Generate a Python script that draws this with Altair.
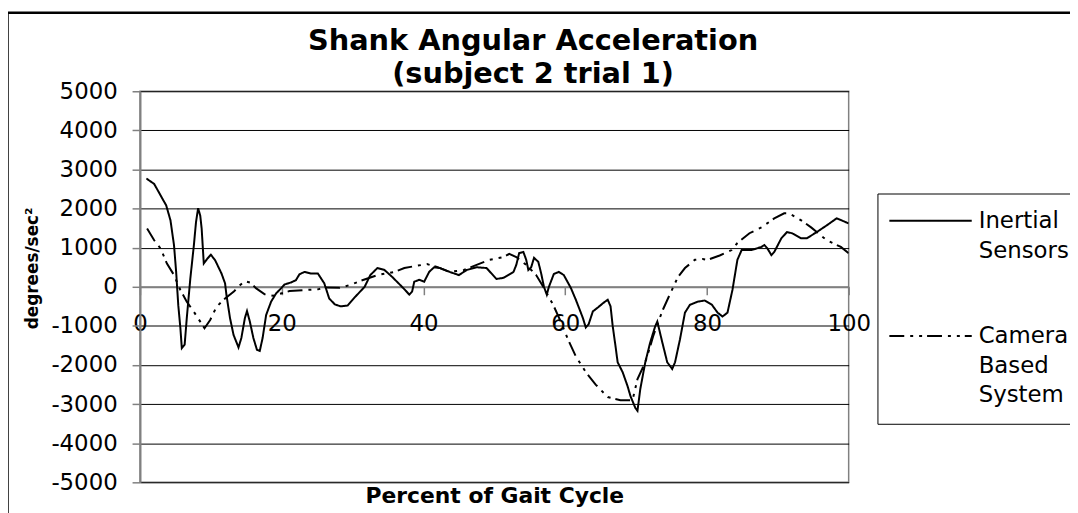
import altair as alt
import pandas as pd

# ---- data ----
series_names = ["Inertial Sensors", "Camera Based System"]

inertial_pct = [0.9, 2.0, 3.7, 4.3, 4.8, 5.1, 5.4, 5.7, 5.9, 6.3, 6.6, 7.1, 7.6, 7.9, 8.2, 8.5,
                8.7, 9.0, 9.5, 10.0, 10.6, 11.5, 12.0, 12.2, 12.7, 13.2, 13.9, 14.3, 14.8, 15.1,
                15.5, 16.0, 16.5, 16.9, 17.3, 17.8, 18.5, 19.2, 19.9, 20.4, 21.3, 22.0, 22.5,
                23.2, 24.1, 25.1, 26.0, 26.7, 27.5, 28.3, 29.3, 30.4, 31.7, 32.5, 33.5, 34.5,
                35.6, 36.7, 37.4, 38.0, 38.4, 38.7, 39.4, 40.1, 40.8, 41.5, 42.3, 43.7, 45.0,
                46.1, 47.5, 48.9, 50.3, 51.3, 52.7, 53.1, 53.5, 54.1, 54.5, 54.8, 55.2, 55.6,
                56.2, 56.6, 57.0, 57.4, 57.7, 58.4, 59.1, 59.8, 60.8, 61.5, 62.5, 62.9, 63.3,
                63.9, 64.6, 65.4, 66.0, 66.4, 66.7, 67.1, 67.4, 68.1, 68.8, 69.2, 69.9, 70.2,
                70.6, 71.3, 72.0, 72.7, 73.0, 73.7, 74.4, 75.1, 75.5, 76.2, 76.9, 77.6, 78.7,
                79.7, 80.7, 81.5, 82.2, 82.9, 83.6, 83.9, 84.3, 84.9, 86.3, 87.7, 88.1, 88.5,
                89.1, 89.5, 90.5, 91.3, 92.0, 93.3, 94.1, 95.5, 96.9, 98.3, 99.0, 100.0]
inertial_val = [2770, 2630, 2080, 1700, 1060, 380, -470, -1060, -1570, -1480, -800, 210, 1060,
                1650, 2010, 1820, 1490, 595, 720, 820, 680, 340, 90, -210, -800, -1230, -1550,
                -1310, -800, -620, -890, -1310, -1610, -1640, -1310, -720, -380, -170, -40, 60,
                110, 170, 320, 380, 340, 340, 90, -300, -450, -500, -480, -250, 0, 300, 480,
                430, 250, 50, -80, -200, -120, 130, 180, 130, 380, 500, 480, 380, 300, 430, 500,
                480, 200, 230, 380, 560, 860, 890, 690, 430, 500, 740, 640, 350, 0, -200, 0,
                330, 380, 300, -30, -330, -800, -1040, -960, -630, -530, -410, -330, -500,
                -1000, -1520, -1930, -2180, -2540, -2790, -3100, -3170, -2610, -1930, -1420,
                -1010, -890, -1420, -1930, -2100, -1930, -1340, -660, -460, -380, -350, -460,
                -660, -760, -660, -80, 250, 690, 940, 940, 1020, 1070, 990, 810, 890, 1240,
                1400, 1370, 1240, 1240, 1400, 1570, 1750, 1700, 1620]

camera_pct = [1.0, 2.0, 2.9, 3.8, 4.8, 5.7, 6.6, 7.6, 8.5, 9.1, 9.9, 10.8, 12.0, 13.2, 14.1,
              14.8, 15.5, 16.4, 17.6, 18.8, 19.9, 21.1, 23.0, 25.1, 26.2, 28.2, 29.7, 31.1,
              33.5, 35.9, 37.3, 38.8, 40.5, 41.9, 43.7, 45.7, 47.5, 49.3, 51.3, 52.1, 53.1,
              54.5, 55.9, 56.9, 58.3, 59.4, 60.4, 61.5, 62.9, 64.3, 66.0, 67.8, 69.5, 70.2,
              71.3, 72.0, 72.4, 72.9, 73.8, 74.5, 75.2, 75.9, 76.9, 78.3, 79.4, 80.1, 81.8,
              83.5, 84.3, 86.0, 87.7, 89.5, 90.9, 91.6, 93.3, 94.7, 95.5, 96.9, 98.9, 100.0]
camera_val = [1490, 1190, 980, 595, 300, -85, -380, -640, -890, -1060, -850, -510, -300, -130,
              40, 145, 110, -40, -190, -230, -170, -110, -85, -65, -15, -25, 50, 150, 300, 380,
              480, 530, 580, 510, 380, 430, 560, 690, 760, 840, 760, 560, 300, 0, -460, -900,
              -1350, -1780, -2180, -2500, -2820, -2900, -2900, -2360, -1930, -1520, -1270,
              -1010, -580, -300, -25, 250, 480, 690, 710, 690, 800, 940, 1120, 1370, 1520, 1750,
              1880, 1880, 1700, 1520, 1400, 1190, 1020, 860]

x_ticks = [0, 20, 40, 60, 80, 100]
y_ticks = [-5000, -4000, -3000, -2000, -1000, 0, 1000, 2000, 3000, 4000, 5000]

df = pd.concat([
    pd.DataFrame({"pct": inertial_pct, "val": inertial_val, "series": series_names[0]}),
    pd.DataFrame({"pct": camera_pct, "val": camera_val, "series": series_names[1]}),
], ignore_index=True)

FONT = "DejaVu Sans"
GRAY = "#808080"

lines = alt.Chart(df).mark_line(strokeWidth=2, color="black", clip=True).encode(
    x=alt.X("pct:Q",
            scale=alt.Scale(domain=[0, 100], nice=False, zero=False),
            axis=alt.Axis(values=x_ticks, title="Percent of Gait Cycle", offset=-197,
                          grid=False, labelPadding=18, labelFlush=False, labelOverlap=False,
                          titleY=217, titleBaseline="alphabetic", titleFontSize=22)),
    y=alt.Y("val:Q",
            scale=alt.Scale(domain=[-5000, 5000], nice=False),
            axis=alt.Axis(values=y_ticks, labelExpr="'' + datum.value",
                          title="degrees/sec²", grid=True,
                          gridColor="#000000", gridWidth=1, labelPadding=15,
                          labelFlush=False, labelOverlap=False,
                          titleX=-108, titleY=178, titleAngle=270, titleAlign="center",
                          titleBaseline="middle", titleFontSize=17)),
    strokeDash=alt.StrokeDash(
        "series:N",
        scale=alt.Scale(domain=series_names, range=[[1, 0], [15, 6, 3, 6, 3, 5]]),
        legend=alt.Legend(title=None, orient="none", legendX=743, legendY=103,
                          strokeColor="black", padding=16, symbolType="M-4,0H4",
                          symbolSize=430.6, symbolStrokeWidth=2, symbolStrokeColor="black",
                          symbolFillColor="transparent", symbolOffset=26,
                          labelFont=FONT, labelFontSize=23, labelColor="black",
                          labelExpr="split(datum.label, ' ')", labelOffset=37,
                          labelLimit=400, labelBaseline="middle", rowPadding=62)),
)

frame_data = alt.Data(values=[{"k": 1}])
frame_top = alt.Chart(frame_data).mark_rule(color="black", strokeWidth=2.5).encode(
    x=alt.value(-133.5), x2=alt.value(950), y=alt.value(-79))
frame_left = alt.Chart(frame_data).mark_rule(color="black", strokeWidth=2.5).encode(
    x=alt.value(-133.5), y=alt.value(-79), y2=alt.value(440))

chart = alt.layer(lines, frame_top, frame_left).properties(
    width=714, height=394,
    autosize=alt.AutoSizeParams(type="none"),
    padding={"left": 133, "top": 82, "right": 223, "bottom": 29},
    title=alt.TitleParams(text=["Shank Angular Acceleration", "(subject 2 trial 1)"],
                          font=FONT, fontSize=29, fontWeight="bold", color="black",
                          anchor="middle", frame="group", dx=39, dy=80, offset=2,
                          lineHeight=33),
).configure(
    style={"guide-label": {"lineHeight": 30}}
).configure_view(
    stroke=GRAY, strokeWidth=1.5
).configure_axis(
    domainColor=GRAY, domainWidth=2, tickColor=GRAY, tickSize=8, tickWidth=1.5,
    labelFont=FONT, labelFontSize=23, labelColor="black",
    titleFont=FONT, titleFontSize=23, titleFontWeight="bold", titleColor="black",
)

chart.save("out.html", embed_options={"renderer": "svg", "actions": False})
